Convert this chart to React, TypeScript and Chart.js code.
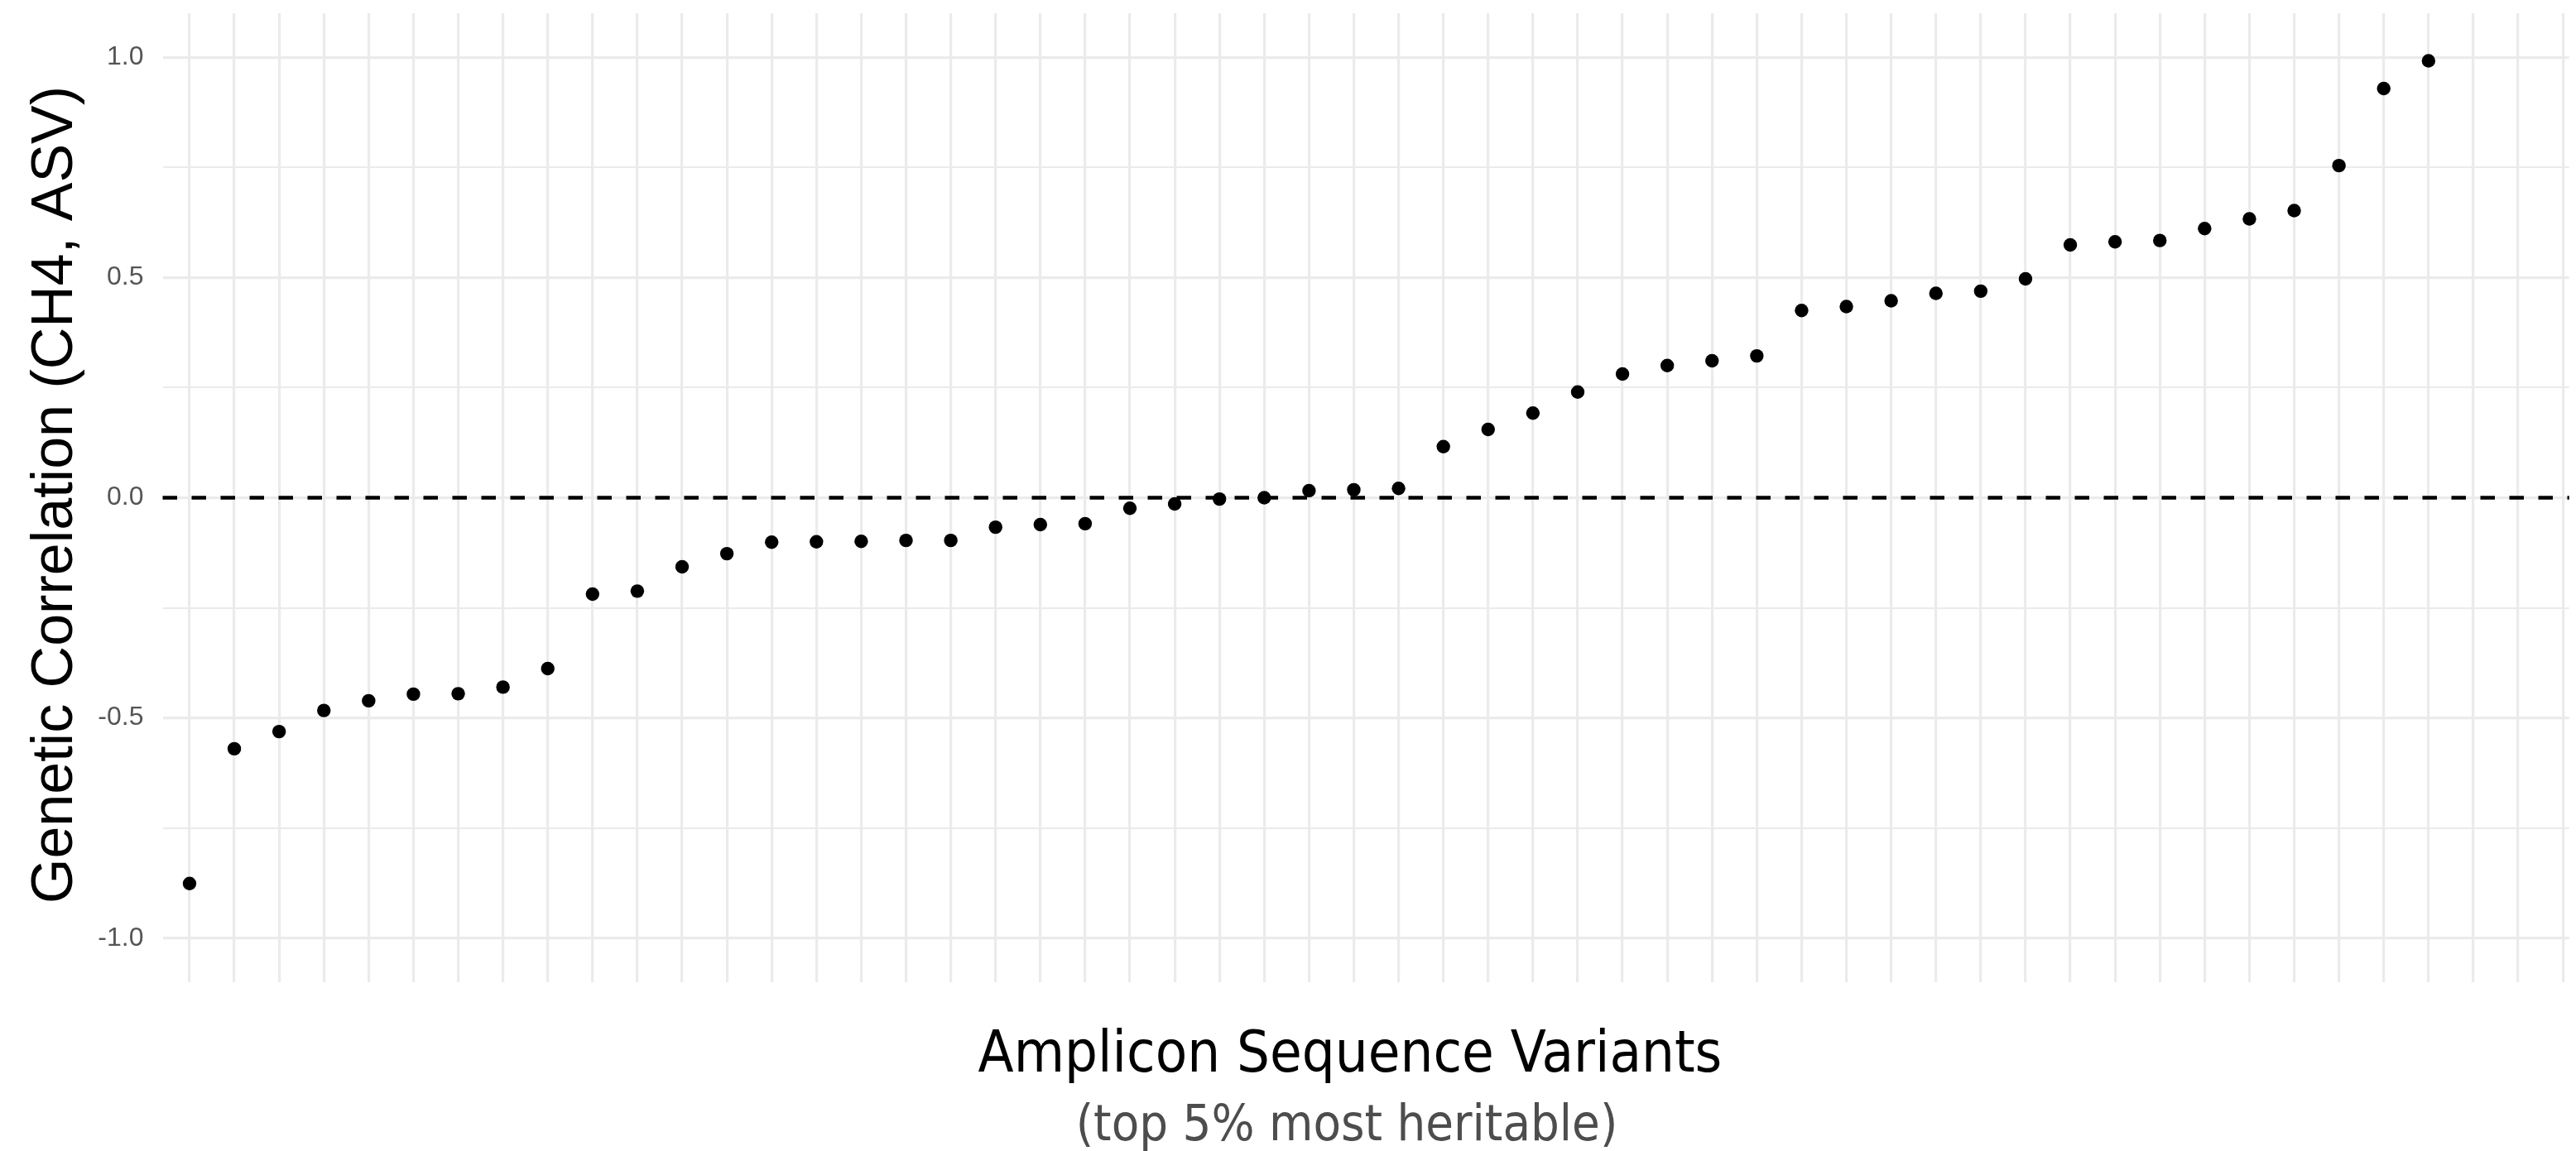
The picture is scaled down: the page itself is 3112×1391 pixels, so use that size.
import React, { useEffect, useRef } from "react";
import { Chart, registerables } from "chart.js";

Chart.register(...registerables);

// ---------------- data ----------------
const categories: string[] = [
  "ASV01", "ASV02", "ASV03", "ASV04", "ASV05", "ASV06", "ASV07", "ASV08", "ASV09", "ASV10",
  "ASV11", "ASV12", "ASV13", "ASV14", "ASV15", "ASV16", "ASV17", "ASV18", "ASV19", "ASV20",
  "ASV21", "ASV22", "ASV23", "ASV24", "ASV25", "ASV26", "ASV27", "ASV28", "ASV29", "ASV30",
  "ASV31", "ASV32", "ASV33", "ASV34", "ASV35", "ASV36", "ASV37", "ASV38", "ASV39", "ASV40",
  "ASV41", "ASV42", "ASV43", "ASV44", "ASV45", "ASV46", "ASV47", "ASV48", "ASV49", "ASV50",
  "ASV51", "ASV52", "ASV53", "ASV54",
];

const correlations: (number | null)[] = [
  -0.876, -0.570, -0.531, -0.483, -0.461, -0.446, -0.445, -0.430, -0.388, -0.219,
  -0.212, -0.157, -0.127, -0.101, -0.100, -0.099, -0.097, -0.097, -0.067, -0.061,
  -0.059, -0.024, -0.014, -0.003, 0.000, 0.016, 0.018, 0.021, 0.116, 0.155,
  0.192, 0.240, 0.281, 0.300, 0.311, 0.322, 0.425, 0.434, 0.447, 0.464,
  0.469, 0.497, 0.574, 0.581, 0.584, 0.611, 0.633, 0.652, 0.754, 0.929,
  0.992, null, null, null,
];

const yTickValues: number[] = [-1, -0.75, -0.5, -0.25, 0, 0.25, 0.5, 0.75, 1];
const yTickLabels: string[] = ["-1.0", "", "-0.5", "", "0.0", "", "0.5", "", "1.0"];

const yTitle = "Genetic Correlation (CH4, ASV)";
const xTitle = "Amplicon Sequence Variants";
const xSubtitle = "(top 5% most heritable)";
const referenceLine = 0;

// ---------------- layout / style ----------------
const W = 3112;
const H = 1391;
const GRID = "#ebebeb";
const SANS = "'Liberation Sans', Arial, Helvetica, sans-serif";
const COND = "'DejaVu Sans Condensed', 'DejaVu Sans', Verdana, sans-serif";

const refLinePlugin = {
  id: "refLine",
  beforeDatasetsDraw(chart: any) {
    const { ctx, chartArea, scales } = chart;
    const y = scales.y.getPixelForValue(referenceLine);
    ctx.save();
    ctx.beginPath();
    ctx.setLineDash([17.5, 17.5]);
    ctx.lineWidth = 4.5;
    ctx.strokeStyle = "#000000";
    ctx.moveTo(chartArea.left, y);
    ctx.lineTo(chartArea.right, y);
    ctx.stroke();
    ctx.restore();
  },
};

const titlesPlugin = {
  id: "titles",
  afterDraw(chart: any) {
    const ctx = chart.ctx;
    ctx.save();
    // y-axis title (rotated)
    ctx.save();
    ctx.translate(87, 598);
    ctx.rotate(-Math.PI / 2);
    ctx.font = `70px ${SANS}`;
    ctx.fillStyle = "#000000";
    ctx.textAlign = "center";
    ctx.textBaseline = "alphabetic";
    ctx.fillText(yTitle, 0, 0);
    ctx.restore();
    // x-axis title
    ctx.font = `70px ${COND}`;
    ctx.fillStyle = "#000000";
    ctx.textAlign = "center";
    ctx.textBaseline = "alphabetic";
    ctx.fillText(xTitle, 1631, 1295);
    // subtitle
    ctx.font = `61px ${COND}`;
    ctx.fillStyle = "#4d4d4d";
    ctx.fillText(xSubtitle, 1627, 1378);
    ctx.restore();
  },
};

export default function App() {
  const canvasRef = useRef<HTMLCanvasElement | null>(null);

  useEffect(() => {
    const canvas = canvasRef.current;
    if (!canvas) return;
    const points = categories.map((_, i) => ({ x: i, y: correlations[i] }));

    const chart = new Chart(canvas, {
      type: "scatter",
      data: {
        datasets: [
          {
            label: "Genetic correlation",
            data: points as any,
            backgroundColor: "#000000",
            borderWidth: 0,
            pointRadius: 8.2,
            pointHoverRadius: 8.2,
          },
        ],
      },
      options: {
        animation: false,
        responsive: false,
        devicePixelRatio: 1,
        layout: { padding: { top: 16, left: 0, right: 0, bottom: 0 } },
        plugins: {
          legend: { display: false },
          tooltip: { enabled: false },
          title: { display: false },
        },
        scales: {
          x: {
            type: "linear",
            min: -0.6,
            max: 53.142,
            afterBuildTicks: (axis: any) => {
              axis.ticks = categories.map((_, i) => ({ value: i }));
            },
            afterFit: (s: any) => {
              s.height = 204;
              s.paddingLeft = 0;
              s.paddingRight = 0;
              s.paddingTop = 0;
              s.paddingBottom = 0;
            },
            ticks: { display: false },
            grid: { color: GRID, lineWidth: 3.2, drawTicks: false },
            border: { display: false },
          },
          y: {
            type: "linear",
            min: -1.1,
            max: 1.1,
            afterBuildTicks: (axis: any) => {
              axis.ticks = yTickValues.map((v) => ({ value: v }));
            },
            afterFit: (s: any) => {
              s.width = 196.5;
              s.paddingLeft = 0;
              s.paddingRight = 0;
              s.paddingTop = 0;
              s.paddingBottom = 0;
            },
            ticks: {
              autoSkip: false,
              padding: 23,
              color: "#555555",
              font: { family: SANS, size: 32 },
              callback: (_v: any, i: number) => yTickLabels[i],
            },
            grid: {
              color: GRID,
              lineWidth: (c: any) => (yTickLabels[c.index] ? 3.2 : 2),
              drawTicks: false,
            },
            border: { display: false },
          },
        },
      },
      plugins: [refLinePlugin, titlesPlugin],
    });

    return () => {
      chart.destroy();
    };
  }, []);

  return (
    <div style={{ position: "absolute", left: 0, top: 0, width: W, height: H, background: "#ffffff" }}>
      <canvas ref={canvasRef} width={W} height={H} style={{ display: "block", width: W, height: H }} />
    </div>
  );
}
